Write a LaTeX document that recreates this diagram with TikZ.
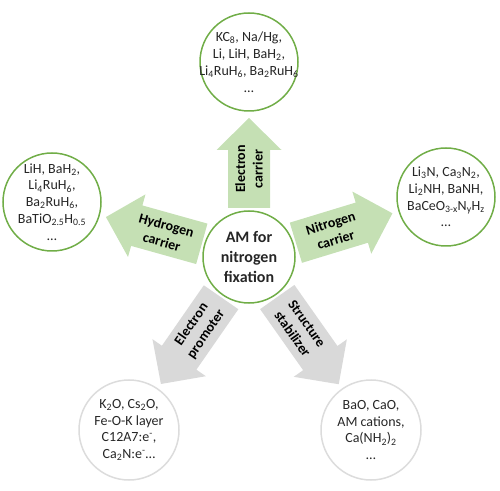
\documentclass[tikz,border=0pt]{standalone}
\usepackage{fontspec}
\setmainfont{Carlito}
\usetikzlibrary{calc}

\definecolor{amgreen}{HTML}{70AD47}
\definecolor{arrgreen}{HTML}{C5E0B4}
\definecolor{arrgrey}{HTML}{D9D9D9}
\definecolor{circgrey}{HTML}{DCDCDC}
\definecolor{txtdark}{HTML}{262626}

\begin{document}
\begin{tikzpicture}[x=1pt, y=1pt,
    greencirc/.style={circle, draw=amgreen, line width=1.5pt, minimum size=98pt, inner sep=0pt},
    greycirc/.style={greencirc, draw=circgrey, minimum size=100pt},
    circtext/.style={align=center, inner sep=0pt, text=txtdark, font=\fontsize{14}{16.8}\selectfont},
    fatlabel/.style={sloped, align=center, inner sep=0pt, font=\bfseries\fontsize{14}{17.5}\selectfont}]
    \useasboundingbox (0,0) rectangle (500,490);

    % centro
    \node[greencirc, minimum size=92pt, align=center, text=txtdark,
          font=\bfseries\fontsize{16}{20}\selectfont] (am) at (249,233) {AM for\\nitrogen\\fixation};

    % cerchi esterni
    \node[greencirc] (ec) at (249,428) {};
    \node[greencirc] (hc) at (52,288) {};
    \node[greencirc] (nc) at (446,293) {};
    \node[greycirc] (ep) at (129,60) {};
    \node[greycirc] (ss) at (371,60) {};

    % testi
    \node[circtext] (ec-t) at (ec) {KC\textsubscript{8}, Na/Hg,\\Li, LiH, BaH\textsubscript{2},\\Li\textsubscript{4}RuH\textsubscript{6}, Ba\textsubscript{2}RuH\textsubscript{6}\\…};
    \node[circtext] (hc-t) at (hc) {LiH, BaH\textsubscript{2},\\Li\textsubscript{4}RuH\textsubscript{6},\\Ba\textsubscript{2}RuH\textsubscript{6},\\BaTiO\textsubscript{2.5}H\textsubscript{0.5}\\…};
    \node[circtext] (nc-t) at (nc) {Li\textsubscript{3}N, Ca\textsubscript{3}N\textsubscript{2},\\Li\textsubscript{2}NH, BaNH,\\BaCeO\textsubscript{3-x}N\textsubscript{y}H\textsubscript{z}\\…};
    \node[circtext] (ep-t) at (ep) {K\textsubscript{2}O, Cs\textsubscript{2}O,\\Fe-O-K layer\\C12A7:e\textsuperscript{-},\\Ca\textsubscript{2}N:e\textsuperscript{-}…};
    \node[circtext] (ss-t) at (ss) {BaO, CaO,\\AM cations,\\Ca(NH\textsubscript{2})\textsubscript{2}\\…};

    % frecce
    \foreach \n/\c/\t in {ec/arrgreen/{Electron\\carrier}, hc/arrgreen/{Hydrogen\\carrier},
                          nc/arrgreen/{Nitrogen\\carrier}, ep/arrgrey/{Electron\\promoter},
                          ss/arrgrey/{Structure\\stabilizer}}{
        \coordinate (tail) at ($(am)!49pt!(\n)$);
        \coordinate (tip) at ($(\n)!56pt!(am)$);
        \coordinate (hb) at ($(tip)!32pt!(tail)$);
        \fill[\c] (tip) -- ($(hb)!32.5pt!90:(tip)$) -- ($(hb)!21pt!90:(tip)$)
            -- ($(tail)!21pt!90:(tip)$) -- ($(tail)!21pt!-90:(tip)$)
            -- ($(hb)!21pt!-90:(tip)$) -- ($(hb)!32.5pt!-90:(tip)$) -- cycle;
        \path (tail) -- ($(tail)!78pt!(tip)$) node[midway, fatlabel] (\n-l) {\t};
    }
\end{tikzpicture}
\end{document}
